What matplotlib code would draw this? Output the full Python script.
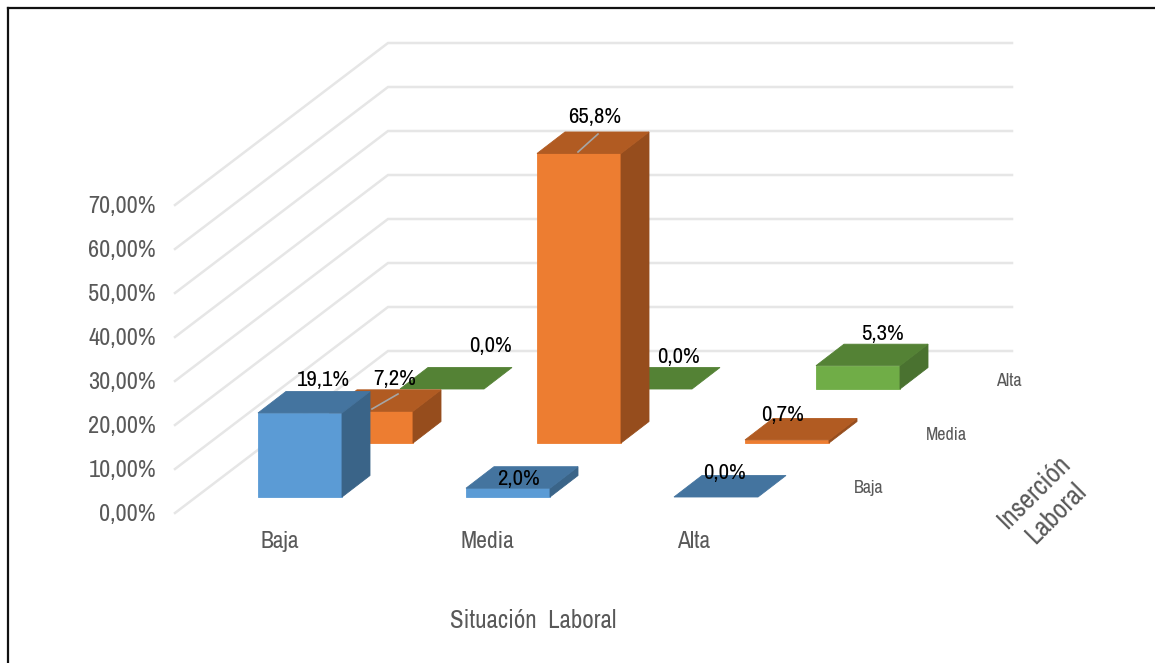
import matplotlib
matplotlib.use("Agg")
import matplotlib.pyplot as plt
from matplotlib.patches import Polygon

# situacion laboral (eje x) / insercion laboral (profundidad)
categorias = ["Baja", "Media", "Alta"]
series = ["Baja", "Media", "Alta"]
valores_baja = [19.1, 2.0, 0.0]
valores_media = [7.2, 65.8, 0.7]
valores_alta = [0.0, 0.0, 5.3]
ticks_y = [0, 10, 20, 30, 40, 50, 60, 70]

colores = [("#5B9BD5", "#44749F", "#3A6488"),
           ("#ED7D31", "#B15B22", "#964D1D"),
           ("#70AD47", "#548235", "#4A7230")]

plt.rcParams["font.family"] = ["Archivo Narrow", "Liberation Sans", "DejaVu Sans"]

PX_POR_PCT = 4.4
ANCHO, FDX, FDY = 84, 28, 21.5


def proyectar(cat, serie, valor):
    # vista oblicua: devuelve la esquina frontal izquierda de la barra
    return 258 + cat * 208 + serie * 71, 497 - serie * 54 - valor * PX_POR_PCT


def dibujar_barra(ax, cat, serie, valor):
    frente, arriba, lado = colores[serie]
    x, y = proyectar(cat, serie, valor)
    _, y0 = proyectar(cat, serie, 0)
    if valor > 0:
        ax.add_patch(Polygon([(x, y0), (x + ANCHO, y0), (x + ANCHO, y), (x, y)], fc=frente, ec=frente, lw=0.6, zorder=5))
        ax.add_patch(Polygon([(x + ANCHO, y0), (x + ANCHO + FDX, y0 - FDY), (x + ANCHO + FDX, y - FDY), (x + ANCHO, y)],
                             fc=lado, ec=lado, lw=0.6, zorder=5))
    ax.add_patch(Polygon([(x, y), (x + ANCHO, y), (x + ANCHO + FDX, y - FDY), (x + FDX, y - FDY)],
                         fc=arriba, ec=arriba, lw=0.6, zorder=5))


fig = plt.figure(figsize=(11.55, 6.63), dpi=100)
ax = fig.add_axes([0, 0, 1, 1])
ax.set_xlim(0, 1155)
ax.set_ylim(663, 0)
ax.axis("off")

# marco
ax.plot([8, 8], [663, 8], color="#111111", lw=1.6)
ax.plot([8, 1155], [8, 8], color="#111111", lw=1.6)

# rejilla de las paredes y etiquetas del eje
for t in ticks_y:
    y_f = 513 - t * PX_POR_PCT
    y_b = 351 - t * PX_POR_PCT
    ax.plot([175, 388, 1012], [y_f, y_b, y_b], color="#E6E6E6", lw=1.8, solid_joinstyle="miter", zorder=1)
    ax.text(156, y_f + 1, f"{t},00%", ha="right", va="center", fontsize=17.5, color="#595959")

# de atras hacia adelante
tabla = [valores_baja, valores_media, valores_alta]
for s in [2, 1, 0]:
    for c in range(len(categorias)):
        dibujar_barra(ax, c, s, tabla[s][c])

# lineas guia de las etiquetas
ax.plot([372, 398], [409, 394], color="#A6A6A6", lw=1.2, zorder=6)
ax.plot([578, 598], [152, 134], color="#A6A6A6", lw=1.2, zorder=6)

pos_etiquetas = {(0, 0): (323, 380), (1, 0): (518, 479), (2, 0): (725, 473),
                 (0, 1): (395, 379), (1, 1): (595, 117), (2, 1): (783, 415),
                 (0, 2): (490, 346), (1, 2): (679, 357), (2, 2): (883, 334)}
for (c, s), (px, py) in pos_etiquetas.items():
    texto = f"{tabla[s][c]:.1f}%".replace(".", ",")
    ax.text(px, py, texto, ha="center", va="center", fontsize=16.5, color="black", zorder=7)

for c, nombre, px in zip(range(3), categorias, [280, 487, 694]):
    ax.text(px, 542, nombre, ha="center", va="center", fontsize=17, color="#595959")
for nombre, px, py in zip(series, [869, 946, 1009], [488, 435, 381]):
    ax.text(px, py, nombre, ha="center", va="center", fontsize=13, color="#595959")

ax.text(533, 620, "Situación  Laboral", ha="center", va="center", fontsize=18, color="#595959")
ax.text(1045, 503, "Inserción\nLaboral", ha="center", va="center", rotation=45, fontsize=19.5,
        color="#595959", linespacing=1.25, rotation_mode="anchor")

fig.savefig("out.png", dpi=100, facecolor="white")
